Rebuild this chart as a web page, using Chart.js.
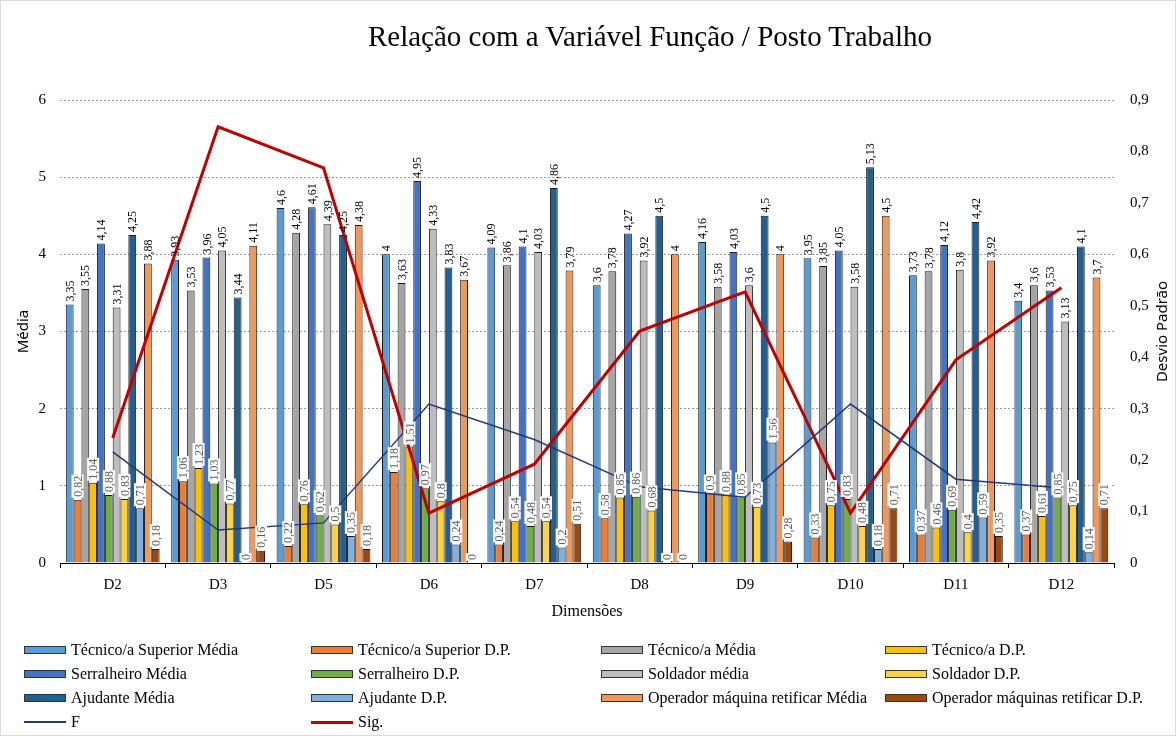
<!DOCTYPE html>
<html>
<head>
<meta charset="utf-8">
<script src="https://cdn.jsdelivr.net/npm/chart.js@4.4.1/dist/chart.umd.min.js"></script>
<style>
  html, body { margin: 0; padding: 0; background: #fff; }
  #wrap { position: relative; width: 1176px; height: 736px; }
  #chart-funcao { position: absolute; left: 0; top: 0; }
  #frame { position: absolute; left: 0; top: 0; width: 1174px; height: 734px; border: 1px solid #d9d9d9; pointer-events: none; }
  #title { position: absolute; top: 20px; left: 650px; transform: translateX(-50%); white-space: nowrap;
    font: 29px "Liberation Serif", serif; color: #000; }
  #legend { position: absolute; left: 0; top: 638px; width: 1176px; font: 16px "Liberation Serif", serif; color: #000; }
  .item { position: absolute; height: 24px; display: flex; align-items: center; white-space: nowrap; }
  .box { width: 40px; height: 6px; margin-right: 5px; border: 1px solid #333; }
  .ln { width: 42px; margin-right: 5px; }
</style>
</head>
<body>
<div id="wrap">
  <canvas id="chart-funcao" width="1176" height="736"></canvas>
  <div id="frame"></div>
  <div id="title">Relação com a Variável Função / Posto Trabalho</div>
  <div id="legend"></div>
</div>
<script>
const DIMENSOES = ['D2', 'D3', 'D5', 'D6', 'D7', 'D8', 'D9', 'D10', 'D11', 'D12'];

const tecSupMedia = [3.35, 3.93, 4.6, 4, 4.09, 3.6, 4.16, 3.95, 3.73, 3.4];
const tecSupDP    = [0.82, 1.06, 0.22, 1.18, 0.24, 0.58, 0.9, 0.33, 0.37, 0.37];
const tecMedia    = [3.55, 3.53, 4.28, 3.63, 3.86, 3.78, 3.58, 3.85, 3.78, 3.6];
const tecDP       = [1.04, 1.23, 0.76, 1.51, 0.54, 0.85, 0.88, 0.75, 0.46, 0.61];
const serMedia    = [4.14, 3.96, 4.61, 4.95, 4.1, 4.27, 4.03, 4.05, 4.12, 3.53];
const serDP       = [0.88, 1.03, 0.62, 0.97, 0.48, 0.86, 0.85, 0.83, 0.69, 0.85];
const solMedia    = [3.31, 4.05, 4.39, 4.33, 4.03, 3.92, 3.6, 3.58, 3.8, 3.13];
const solDP       = [0.83, 0.77, 0.5, 0.8, 0.54, 0.68, 0.73, 0.48, 0.4, 0.75];
const ajuMedia    = [4.25, 3.44, 4.25, 3.83, 4.86, 4.5, 4.5, 5.13, 4.42, 4.1];
const ajuDP       = [0.71, 0, 0.35, 0.24, 0.2, 0, 1.56, 0.18, 0.59, 0.14];
const opMedia     = [3.88, 4.11, 4.38, 3.67, 3.79, 4, 4, 4.5, 3.92, 3.7];
const opDP        = [0.18, 0.16, 0.18, 0, 0.51, 0, 0.28, 0.71, 0.35, 0.71];

// eixo secundário
const fValues   = [0.216, 0.064, 0.078, 0.309, 0.24, 0.148, 0.128, 0.309, 0.163, 0.146];
const sigValues = [0.243, 0.848, 0.768, 0.097, 0.192, 0.451, 0.527, 0.097, 0.395, 0.535];

const LEFT_TICKS  = [0, 1, 2, 3, 4, 5, 6];
const SERIF = '"Liberation Serif", serif';
const SANS  = '"Noto Sans", "Liberation Sans", sans-serif';

const bars = [
  { label: 'Técnico/a Superior Média', data: tecSupMedia, color: '#5B9BD5', dp: false },
  { label: 'Técnico/a Superior D.P.', data: tecSupDP, color: '#ED7D31', dp: true },
  { label: 'Técnico/a Média', data: tecMedia, color: '#A5A5A5', dp: false },
  { label: 'Técnico/a D.P.', data: tecDP, color: '#FFC000', dp: true },
  { label: 'Serralheiro Média', data: serMedia, color: '#4472C4', dp: false },
  { label: 'Serralheiro D.P.', data: serDP, color: '#70AD47', dp: true },
  { label: 'Soldador média', data: solMedia, color: '#BDBDBD', dp: false },
  { label: 'Soldador D.P.', data: solDP, color: '#FFD23F', dp: true },
  { label: 'Ajudante Média', data: ajuMedia, color: '#255E91', dp: false },
  { label: 'Ajudante D.P.', data: ajuDP, color: '#7EB0E0', dp: true },
  { label: ' Operador máquina retificar Média', data: opMedia, color: '#F1975A', dp: false },
  { label: 'Operador máquinas retificar D.P.', data: opDP, color: '#9E480E', dp: true },
];

const fmt = v => String(v).replace('.', ',');

const datasets = [
  { type: 'line', label: 'F', data: fValues, yAxisID: 'y1', borderColor: '#1F3A7A', borderWidth: 1.5,
    pointRadius: 0, tension: 0, order: 0 },
  { type: 'line', label: 'Sig.', data: sigValues, yAxisID: 'y1', borderColor: '#C00000', borderWidth: 3,
    pointRadius: 0, tension: 0, order: 0 },
  ...bars.map(b => ({
    type: 'bar', label: b.label, data: b.data, yAxisID: 'y', backgroundColor: b.color,
    borderColor: '#1a1a1a', borderWidth: 1, categoryPercentage: 0.89, barPercentage: 1.0,
    order: 1, isDP: b.dp,
  })),
];

// rótulos de dados rodados por cima das barras
const barLabels = {
  id: 'bar-labels',
  afterDatasetsDraw(chart) {
    const { ctx } = chart;
    ctx.save();
    ctx.font = `12px ${SERIF}`;
    chart.data.datasets.forEach((ds, i) => {
      if (ds.type !== 'bar') return;
      const meta = chart.getDatasetMeta(i);
      meta.data.forEach((el, j) => {
        const txt = fmt(ds.data[j]);
        const w = ctx.measureText(txt).width;
        ctx.save();
        ctx.translate(el.x, el.y - 3);
        ctx.rotate(-Math.PI / 2);
        if (ds.isDP) {
          ctx.fillStyle = '#fff';
          ctx.fillRect(-1, -6, w + 2, 12);
          ctx.fillStyle = '#595959';
        } else {
          ctx.fillStyle = '#000';
        }
        ctx.textAlign = 'left';
        ctx.textBaseline = 'middle';
        ctx.fillText(txt, 0, 1);
        ctx.restore();
      });
    });
    ctx.restore();
  },
};

// título do eixo secundário (de baixo para cima)
const rightTitle = {
  id: 'right-title',
  afterDraw(chart) {
    const { ctx, chartArea } = chart;
    ctx.save();
    ctx.translate(1163, (chartArea.top + chartArea.bottom) / 2);
    ctx.rotate(-Math.PI / 2);
    ctx.font = `15px ${SANS}`;
    ctx.fillStyle = '#000';
    ctx.textAlign = 'center';
    ctx.textBaseline = 'middle';
    ctx.fillText('Desvio Padrão', 0, 0);
    ctx.restore();
  },
};

const canvas = document.getElementById('chart-funcao');
const chart = new Chart(canvas.getContext('2d'), {
  data: { labels: DIMENSOES, datasets },
  options: {
    responsive: false,
    animation: false,
    devicePixelRatio: 1,
    layout: { padding: { top: 100, bottom: 113, left: 0, right: 0 } },
    plugins: { legend: { display: false }, tooltip: { enabled: false } },
    scales: {
      x: {
        grid: { offset: true, drawOnChartArea: false, drawTicks: true, tickLength: 5, color: '#000' },
        border: { display: true, color: '#000', width: 1 },
        ticks: { font: { family: SERIF, size: 15 }, color: '#000', padding: 8 },
        title: { display: true, text: 'Dimensões', font: { family: SERIF, size: 16 }, color: '#000', padding: { top: 0, bottom: 2 } },
        afterFit(scale) { scale.height = 60; },
      },
      y: {
        position: 'left', min: 0, max: 6,
        afterBuildTicks(scale) { scale.ticks = LEFT_TICKS.map(v => ({ value: v })); },
        grid: { color: '#9a9a9a', drawTicks: false },
        border: { display: false, dash: [2, 2] },
        ticks: { font: { family: SERIF, size: 15 }, color: '#000', padding: 14 },
        title: { display: true, text: 'Média', font: { family: SANS, size: 15 }, color: '#000', padding: { top: 15, bottom: 0 } },
        afterFit(scale) { scale.width = 60; },
      },
      y1: {
        position: 'right', min: 0, max: 0.9,
        ticks: { stepSize: 0.1, font: { family: SERIF, size: 15 }, color: '#000', padding: 16,
          callback: v => fmt(Math.round(v * 10) / 10) },
        grid: { drawOnChartArea: false, drawTicks: false },
        border: { display: false },
        afterFit(scale) { scale.width = 62; },
      },
    },
  },
  plugins: [barLabels, rightTitle],
});

// legenda em grelha de 4 colunas, como no original
const legendItems = [...bars.map(b => ({ label: b.label, color: b.color, kind: 'box' })),
  { label: 'F', color: '#1F3A7A', kind: 'line', width: 2 },
  { label: 'Sig.', color: '#C00000', kind: 'line', width: 3 }];
const COLS = [24, 311, 601, 885];
const legend = document.getElementById('legend');
legendItems.forEach((it, i) => {
  const div = document.createElement('div');
  div.className = 'item';
  div.style.left = COLS[i % 4] + 'px';
  div.style.top = Math.floor(i / 4) * 24 + 'px';
  const sw = document.createElement('span');
  if (it.kind === 'box') {
    sw.className = 'box';
    sw.style.background = it.color;
  } else {
    sw.className = 'ln';
    sw.style.borderTop = `${it.width}px solid ${it.color}`;
  }
  div.appendChild(sw);
  div.appendChild(document.createTextNode(it.label));
  legend.appendChild(div);
});
</script>
</body>
</html>
